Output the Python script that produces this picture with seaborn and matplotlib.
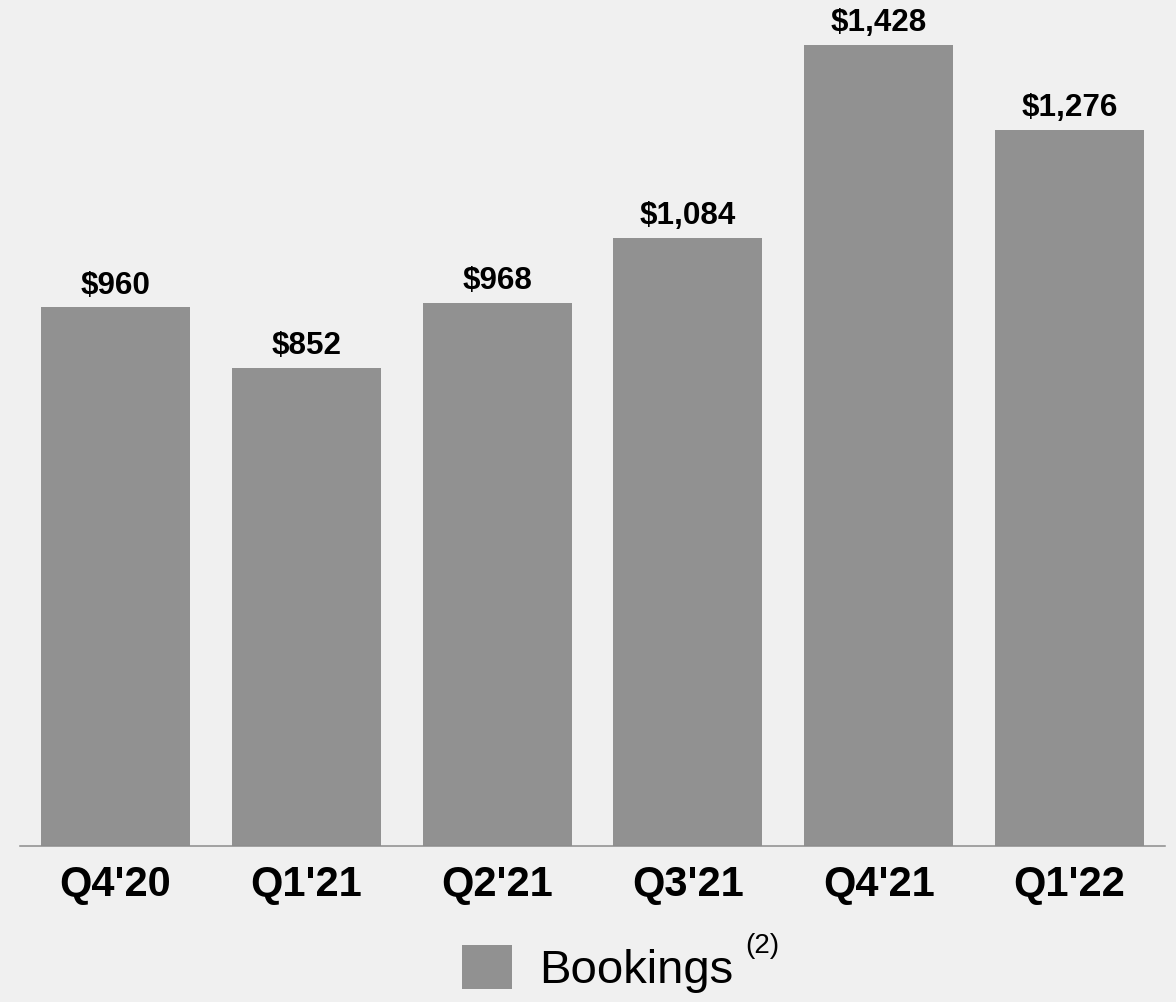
import matplotlib
matplotlib.use("Agg")
import matplotlib.pyplot as plt
import seaborn as sns
import pandas as pd

quarters = ["Q4'20", "Q1'21", "Q2'21", "Q3'21", "Q4'21", "Q1'22"]
bookings = [960, 852, 968, 1084, 1428, 1276]
value_labels = ["$960", "$852", "$968", "$1,084", "$1,428", "$1,276"]

BG = "#f0f0f0"
BAR = "#919191"

sns.set_theme(style="white")
plt.rcParams["font.family"] = ["Liberation Sans", "DejaVu Sans"]

fig = plt.figure(figsize=(11.76, 10.02), dpi=100, facecolor=BG)
ax = fig.add_axes([20 / 1176, 1 - 846 / 1002, 1145 / 1176, 846 / 1002])
ax.set_facecolor(BG)

df = pd.DataFrame({"quarter": quarters, "value": bookings})
sns.barplot(data=df, x="quarter", y="value", color=BAR, saturation=1,
            width=0.78, ax=ax, label="Bookings", linewidth=0, edgecolor=BAR)

ax.set_xlim(-0.5, 5.5)
ax.set_ylim(0, 1508)
ax.set_xlabel("")
ax.set_ylabel("")
ax.set_yticks([])
for s in ["top", "left", "right"]:
    ax.spines[s].set_visible(False)
ax.spines["bottom"].set_color("#8c8c8c")
ax.spines["bottom"].set_linewidth(1.1)
ax.tick_params(axis="x", length=0, pad=14)
for t in ax.get_xticklabels():
    t.set_fontsize(30)
    t.set_fontweight("bold")
    t.set_color("black")

for i, (v, lab) in enumerate(zip(bookings, value_labels)):
    ax.annotate(lab, (i, v), xytext=(0, 10), textcoords="offset points",
                ha="center", va="baseline", fontsize=22.6,
                fontweight="bold", color="black")

leg = ax.legend(loc="center", bbox_to_anchor=(598 / 1176, 1 - 969 / 1002),
                bbox_transform=fig.transFigure, frameon=False,
                fontsize=34, handlelength=1.05, handleheight=1.05,
                handletextpad=0.58, borderpad=0, borderaxespad=0,
                labelcolor="black")
fig.text(745 / 1176, 1 - 953 / 1002, "(2)", fontsize=20, color="black",
         ha="left", va="baseline")

fig.savefig("out.png", dpi=100, facecolor=BG)
